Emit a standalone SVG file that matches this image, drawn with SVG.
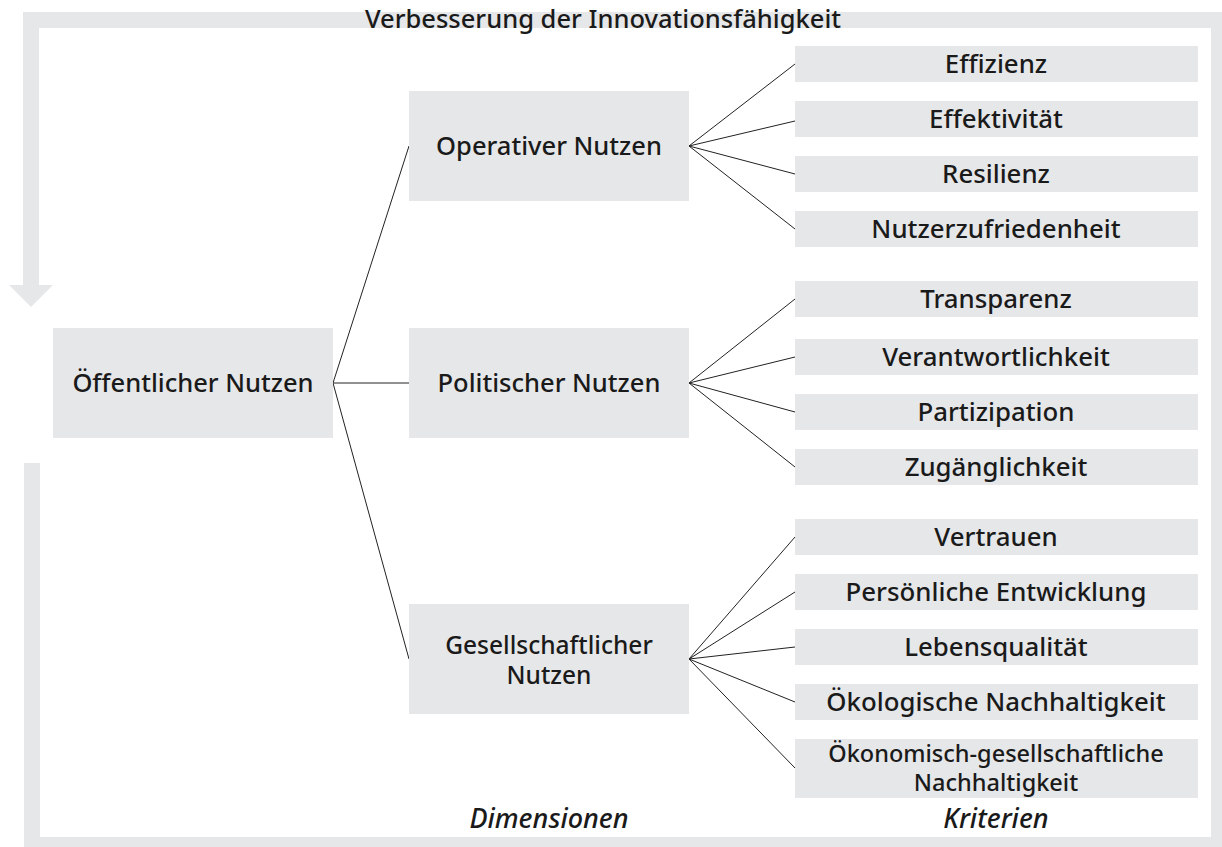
<svg xmlns="http://www.w3.org/2000/svg" width="1222" height="847" viewBox="0 0 1222 847">
<style>
.bar{fill:#e6e7e9}
.box{fill:#e6e7e9}
text{font-family:"Noto Sans","Liberation Sans",sans-serif;fill:#1a1a1a;text-anchor:middle;font-weight:500}
.t{font-size:25.5px}
.t2{font-size:24.5px}
.c{font-size:25.8px}
.c2{font-size:23.5px}
.i{font-size:27px;font-style:italic}
.ln{stroke:#222;stroke-width:1;fill:none}
</style>
<g id="frame">
<path class="bar" d="M23,12 H1227 V853 H24 V463 H40 V837 H1211 V28 H39 V285 H53 L31,307 L9,285 H23 Z"/>
<text class="t" x="603" y="28">Verbesserung der Innovationsfähigkeit</text>
</g>
<g id="connectors">
<line class="ln" x1="333" y1="383" x2="409" y2="146"/>
<line class="ln" x1="333" y1="383" x2="409" y2="383"/>
<line class="ln" x1="333" y1="383" x2="409" y2="659"/>
<line class="ln" x1="689" y1="146" x2="795" y2="64"/>
<line class="ln" x1="689" y1="146" x2="795" y2="121"/>
<line class="ln" x1="689" y1="146" x2="795" y2="174"/>
<line class="ln" x1="689" y1="146" x2="795" y2="229"/>
<line class="ln" x1="689" y1="383" x2="795" y2="299"/>
<line class="ln" x1="689" y1="383" x2="795" y2="357"/>
<line class="ln" x1="689" y1="383" x2="795" y2="412"/>
<line class="ln" x1="689" y1="383" x2="795" y2="467"/>
<line class="ln" x1="689" y1="659" x2="795" y2="537"/>
<line class="ln" x1="689" y1="659" x2="795" y2="592"/>
<line class="ln" x1="689" y1="659" x2="795" y2="647"/>
<line class="ln" x1="689" y1="659" x2="795" y2="702"/>
<line class="ln" x1="689" y1="659" x2="795" y2="768"/>
</g>
<g id="n-oeffentlich"><rect class="box" x="53" y="328" width="280" height="110"/><text class="t" x="193" y="392">Öffentlicher Nutzen</text></g>
<g id="n-operativ"><rect class="box" x="409" y="91" width="280" height="110"/><text class="t" x="549" y="155">Operativer Nutzen</text></g>
<g id="n-politisch"><rect class="box" x="409" y="328" width="280" height="110"/><text class="t" x="549" y="392">Politischer Nutzen</text></g>
<g id="n-gesellschaft"><rect class="box" x="409" y="604" width="280" height="110"/><text class="t2" x="549" y="654">Gesellschaftlicher</text><text class="t2" x="549" y="684">Nutzen</text></g>
<g id="c-effizienz"><rect class="box" x="795" y="46" width="403" height="36"/><text class="c" x="996" y="73">Effizienz</text></g>
<g id="c-effektivitaet"><rect class="box" x="795" y="101" width="403" height="36"/><text class="c" x="996" y="128">Effektivität</text></g>
<g id="c-resilienz"><rect class="box" x="795" y="156" width="403" height="36"/><text class="c" x="996" y="183">Resilienz</text></g>
<g id="c-nutzer"><rect class="box" x="795" y="211" width="403" height="36"/><text class="c" x="996" y="238">Nutzerzufriedenheit</text></g>
<g id="c-transparenz"><rect class="box" x="795" y="281" width="403" height="36"/><text class="c" x="996" y="308">Transparenz</text></g>
<g id="c-verantwortlichkeit"><rect class="box" x="795" y="339" width="403" height="36"/><text class="c" x="996" y="366">Verantwortlichkeit</text></g>
<g id="c-partizipation"><rect class="box" x="795" y="394" width="403" height="36"/><text class="c" x="996" y="421">Partizipation</text></g>
<g id="c-zugaenglichkeit"><rect class="box" x="795" y="449" width="403" height="36"/><text class="c" x="996" y="476">Zugänglichkeit</text></g>
<g id="c-vertrauen"><rect class="box" x="795" y="519" width="403" height="36"/><text class="c" x="996" y="546">Vertrauen</text></g>
<g id="c-persoenlich"><rect class="box" x="795" y="574" width="403" height="36"/><text class="c" x="996" y="601">Persönliche Entwicklung</text></g>
<g id="c-lebensqualitaet"><rect class="box" x="795" y="629" width="403" height="36"/><text class="c" x="996" y="656">Lebensqualität</text></g>
<g id="c-oekologisch"><rect class="box" x="795" y="684" width="403" height="36"/><text class="c" x="996" y="711">Ökologische Nachhaltigkeit</text></g>
<g id="c-oekonomisch"><rect class="box" x="795" y="739" width="403" height="59"/><text class="c2" x="996" y="762">Ökonomisch-gesellschaftliche</text><text class="c2" x="996" y="791">Nachhaltigkeit</text></g>
<g id="labels">
<text class="i" x="549" y="828">Dimensionen</text>
<text class="i" x="996" y="828">Kriterien</text>
</g>
</svg>
